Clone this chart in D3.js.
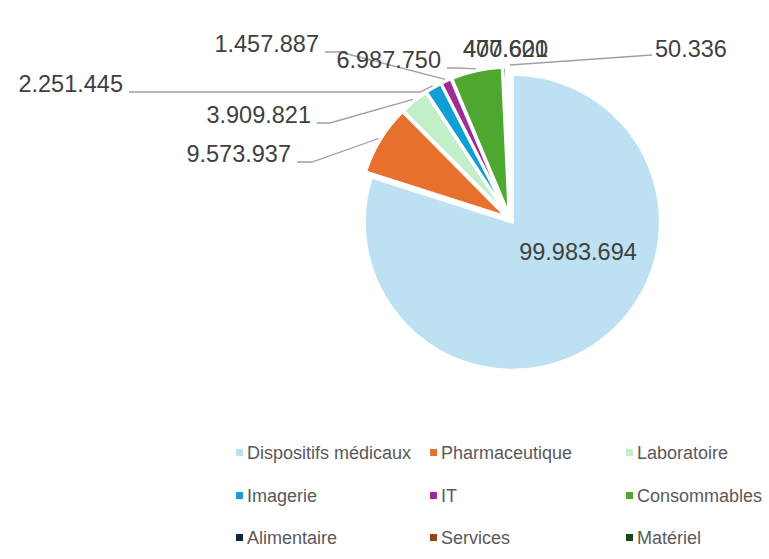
<!DOCTYPE html>
<html>
<head>
<meta charset="utf-8">
<script src="https://cdn.jsdelivr.net/npm/d3@7"></script>
<style>
  body { margin: 0; background: #ffffff; }
  text { font-family: "Liberation Sans", Arial, sans-serif; }
</style>
</head>
<body>
<div id="chart"></div>
<script>
// categories and values, in slice order (clockwise from 12 o'clock)
let categories = ["Dispositifs médicaux", "Pharmaceutique", "Laboratoire",
                  "Imagerie", "IT", "Consommables",
                  "Alimentaire", "Services", "Matériel"];
let values = [99983694, 9573937, 3909821,
              2251445, 1457887, 6987750,
              470620, 407601, 50336];
let colors = ["#bde1f2", "#e8702f", "#c2efca",
              "#0f9ed5", "#a02b93", "#4ea72e",
              "#0e2841", "#9a420f", "#124a1c"];

let width = 769, height = 559;
let cx = 510, cy = 219, radius = 148, explode = 4;

// label placement (layout only): x / baseline / anchor / elbow x
let labelPos = {
  "Dispositifs médicaux": { x: 578, y: 260, anchor: "middle", inside: true },
  "Pharmaceutique": { x: 291, y: 162, anchor: "end", elbow: 312 },
  "Laboratoire":    { x: 311, y: 123, anchor: "end", elbow: 330 },
  "Imagerie":       { x: 123, y: 92,  anchor: "end", elbow: 420 },
  "IT":             { x: 319, y: 52,  anchor: "end", elbow: 340 },
  "Consommables":   { x: 441, y: 68,  anchor: "end", elbow: 458 },
  "Alimentaire":    { x: 463, y: 57,  anchor: "start", tick: true },
  "Services":       { x: 463, y: 57,  anchor: "start", tick: true },
  "Matériel":       { x: 655, y: 57,  anchor: "start", elbow: 652 }
};

let fmt = v => d3.format(",")(v).replace(/,/g, ".");

let svg = d3.select("#chart").append("svg")
  .attr("width", width)
  .attr("height", height);

let data = categories.map((c, i) => ({ name: c, value: values[i], color: colors[i] }));

let pie = d3.pie().sort(null).value(d => d.value);
let arcs = pie(data);

let arc = d3.arc().innerRadius(0).outerRadius(radius);
let rim = d3.arc().innerRadius(radius + 2).outerRadius(radius + 2);

function dir(d) {
  let a = (d.startAngle + d.endAngle) / 2;
  return [Math.sin(a), -Math.cos(a)];
}

let g = svg.append("g").attr("transform", "translate(" + cx + "," + cy + ")");

g.selectAll("path.slice")
  .data(arcs)
  .enter()
  .append("path")
  .attr("class", "slice")
  .attr("transform", d => {
    let u = dir(d);
    return "translate(" + (u[0] * explode) + "," + (u[1] * explode) + ")";
  })
  .attr("d", arc)
  .attr("fill", d => d.data.color)
  .attr("stroke", "#ffffff")
  .attr("stroke-width", 3)
  .attr("stroke-linejoin", "round");

// leader lines
let leaders = svg.append("g")
  .attr("fill", "none")
  .attr("stroke", "#a0a0a0")
  .attr("stroke-width", 1.3);

arcs.forEach(d => {
  let p = labelPos[d.data.name];
  if (p.inside) return;
  let u = dir(d);
  let end = rim.centroid(d);
  let ex = cx + end[0] + u[0] * explode, ey = cy + end[1] + u[1] * explode;
  let pts;
  if (p.tick) {
    pts = [[ex, p.y + 8], [ex, ey]];
  } else if (p.anchor === "end") {
    pts = [[p.x + 6, p.y], [p.elbow, p.y], [ex, ey]];
  } else {
    pts = [[p.elbow, p.y - 2], [ex, ey]];
  }
  leaders.append("path").attr("d", d3.line()(pts));
});

// value labels
svg.append("g")
  .selectAll("text")
  .data(arcs)
  .enter()
  .append("text")
  .attr("x", d => labelPos[d.data.name].x)
  .attr("y", d => labelPos[d.data.name].y)
  .attr("text-anchor", d => labelPos[d.data.name].anchor)
  .attr("font-size", "23.5px")
  .attr("fill", "#404040")
  .text(d => fmt(d.data.value));

// legend, 3 columns x 3 rows
let legX = [236, 430, 626];
let legY = [453, 496, 538];

let leg = svg.append("g")
  .selectAll("g")
  .data(data)
  .enter()
  .append("g")
  .attr("transform", (d, i) => "translate(" + legX[i % 3] + "," + legY[Math.floor(i / 3)] + ")");

leg.append("rect")
  .attr("x", 0)
  .attr("y", -4)
  .attr("width", 7)
  .attr("height", 7)
  .attr("fill", d => d.color);

leg.append("text")
  .attr("x", 11)
  .attr("y", 6)
  .attr("font-size", "18px")
  .attr("fill", "#595959")
  .text(d => d.name);
</script>
</body>
</html>
